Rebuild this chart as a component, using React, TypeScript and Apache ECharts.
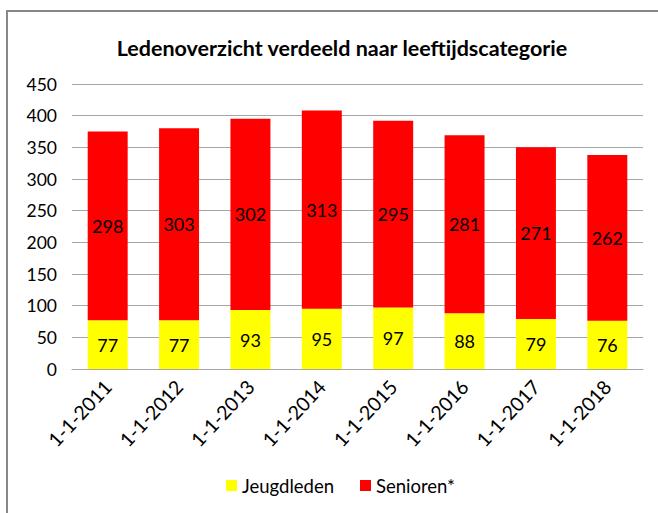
import React, { useEffect, useRef } from "react";
import * as echarts from "echarts";

const categories = ["1-1-2011", "1-1-2012", "1-1-2013", "1-1-2014", "1-1-2015", "1-1-2016", "1-1-2017", "1-1-2018"];
const jeugdleden = [77, 77, 93, 95, 97, 88, 79, 76];
const senioren = [298, 303, 302, 313, 295, 281, 271, 262];
const yTicks = { min: 0, max: 450, interval: 50 };

const FONT = "Lato, 'Open Sans', sans-serif";

export default function App() {
  const ref = useRef<HTMLDivElement>(null);
  useEffect(() => {
    if (!ref.current) return;
    const chart = echarts.init(ref.current, undefined, { renderer: "svg" });
    chart.setOption({
      animation: false,
      backgroundColor: "#ffffff",
      textStyle: { fontFamily: FONT },
      title: {
        text: "Ledenoverzicht verdeeld naar leeftijdscategorie",
        left: 337,
        textAlign: "center",
        top: 32,
        textStyle: { fontFamily: FONT, fontSize: 21.5, fontWeight: "bold", color: "#000" },
      },
      graphic: [
        {
          type: "rect",
          shape: { x: 7, y: 11, width: 700, height: 600 },
          style: { fill: "none", stroke: "#878787", lineWidth: 2 },
          silent: true,
        },
      ],
      legend: {
        bottom: 13,
        left: 221,
        itemWidth: 11,
        itemHeight: 11,
        itemGap: 26,
        icon: "rect",
        textStyle: { fontFamily: FONT, fontSize: 18.5, color: "#000" },
        data: ["Jeugdleden", "Senioren*"],
      },
      grid: { left: 72, right: 15, top: 84, bottom: 144, containLabel: false },
      xAxis: {
        type: "category",
        data: categories,
        axisLine: { lineStyle: { color: "#a6a6a6", width: 1 } },
        axisTick: { show: false },
        axisLabel: {
          rotate: 47,
          interval: 0,
          margin: 14,
          fontFamily: FONT,
          fontSize: 19.5,
          color: "#000",
        },
      },
      yAxis: {
        type: "value",
        min: yTicks.min,
        max: yTicks.max,
        interval: yTicks.interval,
        axisLine: { show: false },
        axisTick: { show: false },
        splitLine: { lineStyle: { color: "#a6a6a6", width: 1 } },
        axisLabel: { fontFamily: FONT, fontSize: 17.5, color: "#000", margin: 15 },
      },
      series: [
        {
          name: "Jeugdleden",
          type: "bar",
          stack: "total",
          data: jeugdleden,
          barWidth: "56%",
          itemStyle: { color: "#ffff00" },
          label: { show: true, position: "inside", fontFamily: FONT, fontSize: 18, color: "#000" },
        },
        {
          name: "Senioren*",
          type: "bar",
          stack: "total",
          data: senioren,
          barWidth: "56%",
          itemStyle: { color: "#ff0000" },
          label: { show: true, position: "inside", fontFamily: FONT, fontSize: 18, color: "#000" },
        },
      ],
    });
    return () => chart.dispose();
  }, []);
  return (
    <div
      ref={ref}
      style={{ position: "fixed", left: 0, top: 0, width: 658, height: 513 }}
    />
  );
}
